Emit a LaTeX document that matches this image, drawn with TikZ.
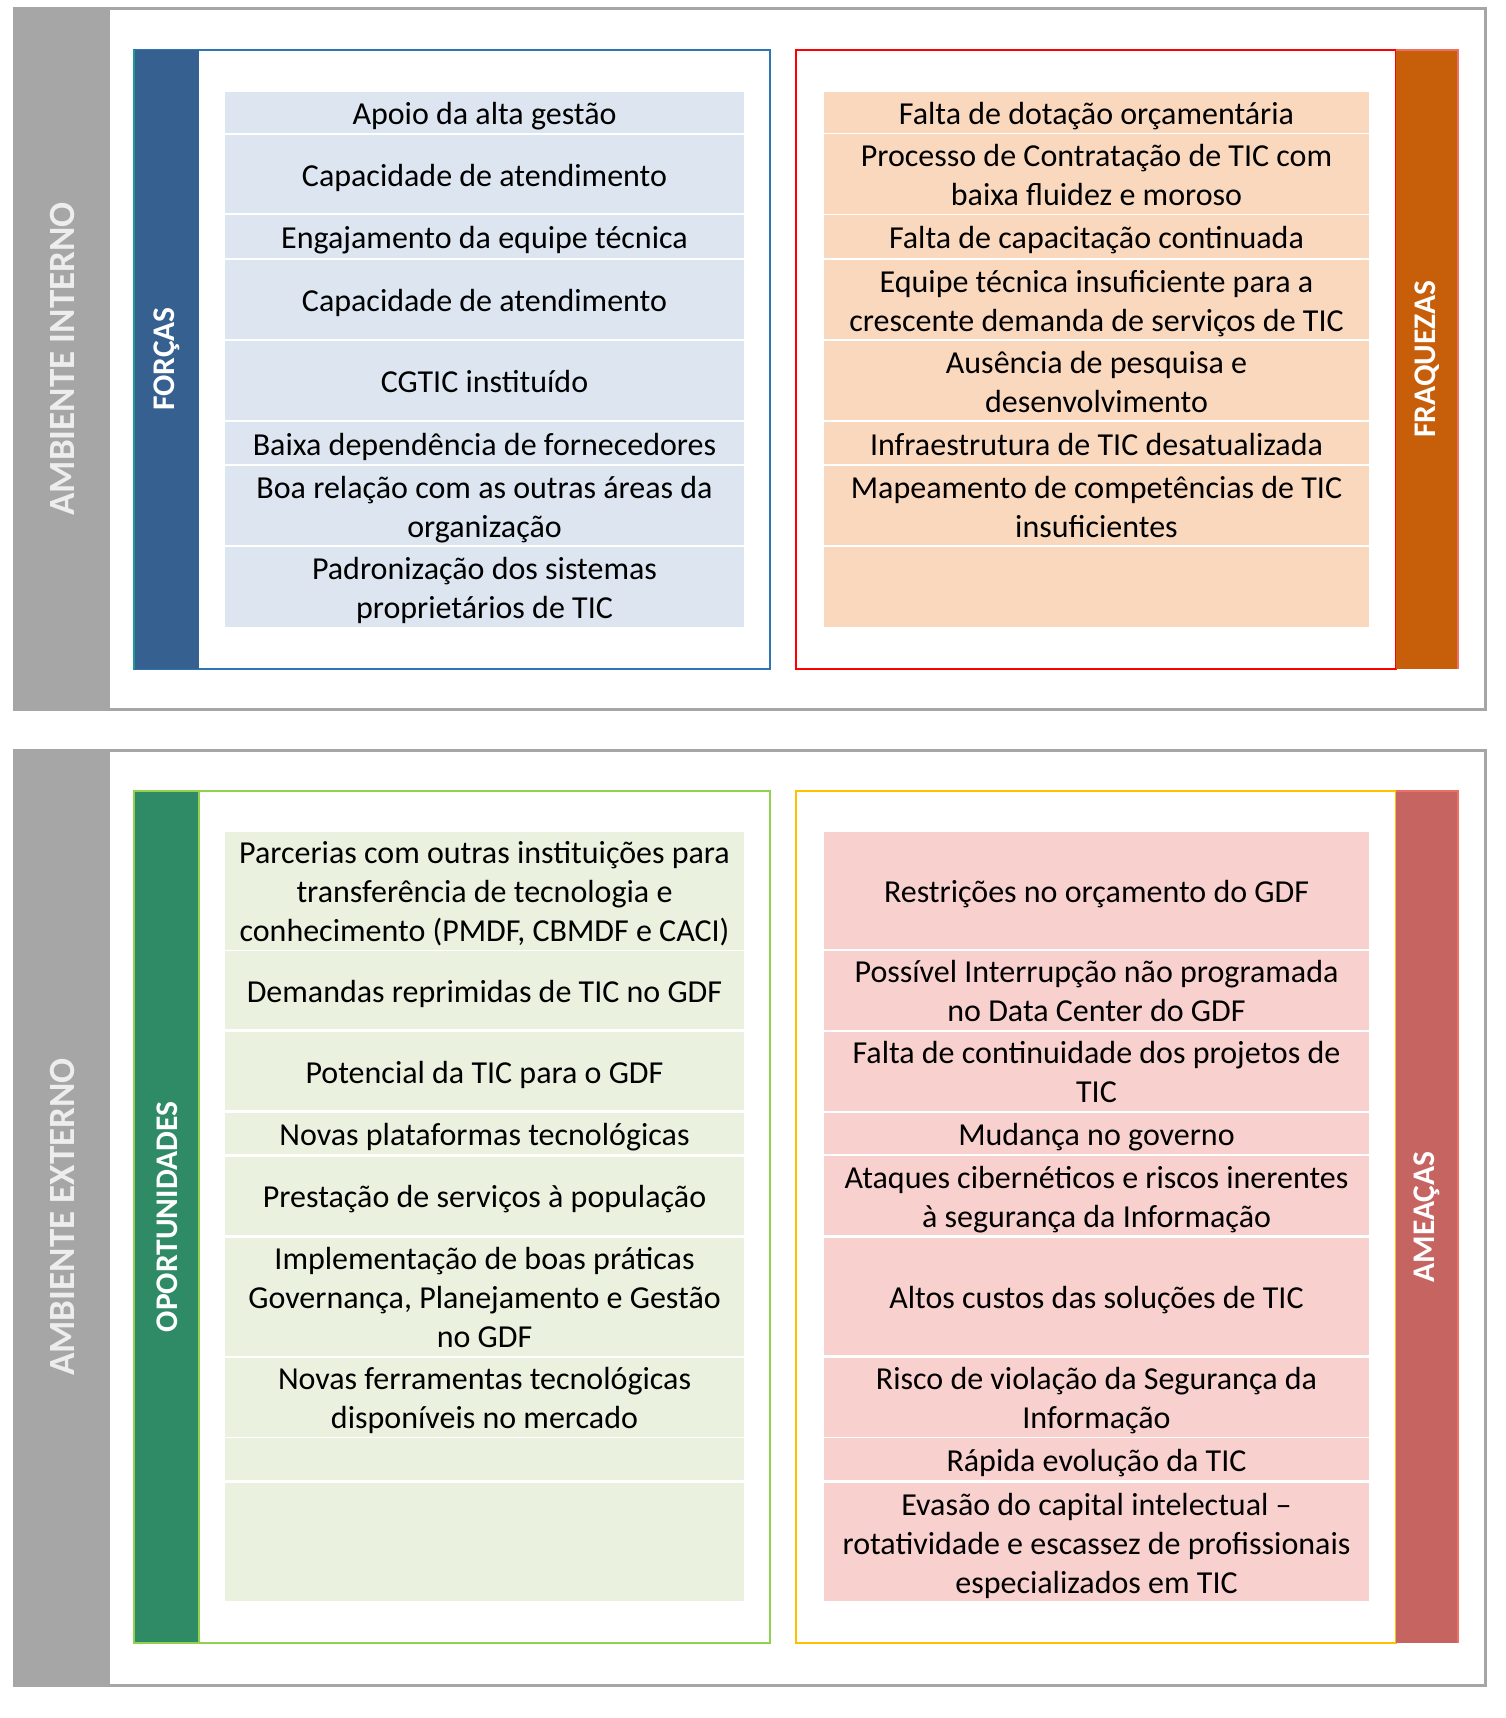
\documentclass[tikz,border=0pt]{standalone}
\usepackage{fontspec}
\setmainfont{Carlito}

\definecolor{moldura}{HTML}{A6A6A6}
\definecolor{azulfaixa}{HTML}{35608F}
\definecolor{azulborda}{HTML}{2E75B6}
\definecolor{azulcel}{HTML}{DCE5F0}
\definecolor{tealline}{HTML}{1B9B98}
\definecolor{laranjafaixa}{HTML}{C65E0A}
\definecolor{laranjacel}{HTML}{FAD8BE}
\definecolor{vermelhoborda}{HTML}{FF0000}
\definecolor{salmao}{HTML}{EC7063}
\definecolor{verdefaixa}{HTML}{2E8B66}
\definecolor{verdeborda}{HTML}{92D050}
\definecolor{verdecel}{HTML}{EAF1DE}
\definecolor{amareloborda}{HTML}{FFC000}
\definecolor{rosafaixa}{HTML}{C66462}
\definecolor{rosacel}{HTML}{F8D0CD}

% altura fixa da primeira linha de cada celula
\newcommand\topo{\rule{0pt}{32pt}}

\tikzset{
  ambiente/.style={rotate=90,text=white!93!black,font=\fontsize{37}{43}\selectfont\bfseries},
  quadrante/.style={rotate=90,text=white,font=\fontsize{31.5}{36}\selectfont\bfseries},
  celula/.style={inner sep=0pt,align=center,font=\fontsize{32}{39}\selectfont,
    execute at end node={\rule[-8pt]{0pt}{8pt}}}
}

\begin{document}
\begin{tikzpicture}[x=1pt,y=-1pt]
\useasboundingbox (0,0) rectangle (1505,1718);

% ambiente interno
\draw[moldura,line width=3] (14,9) rectangle (1485,709);
\fill[moldura] (14,9) rectangle (110,709);
\node (interno) at (62,359) [ambiente] {AMBIENTE INTERNO};

% forcas
\draw[azulborda,line width=2] (134,50) rectangle (770,669);
\fill[azulfaixa] (134,50) rectangle (199,669);
\draw[tealline,line width=2] (134,50) -- (134,669);
\node (forcas) at (167,359) [quadrante] {FORÇAS};
\begin{scope}[every node/.style={celula,fill=azulcel,minimum width=519pt}]
  \node (f1) at (484.5,112.5) [minimum height=41pt] {\topo Apoio da alta gestão};
  \node (f2) at (484.5,174) [minimum height=78pt] {\topo Capacidade de atendimento};
  \node (f3) at (484.5,236.5) [minimum height=43pt] {\topo Engajamento da equipe técnica};
  \node (f4) at (484.5,299.5) [minimum height=79pt] {\topo Capacidade de atendimento};
  \node (f5) at (484.5,380.5) [minimum height=79pt] {\topo CGTIC instituído};
  \node (f6) at (484.5,443) [minimum height=42pt] {\topo Baixa dependência de fornecedores};
  \node (f7) at (484.5,505.5) [minimum height=79pt] {\topo Boa relação com as outras áreas da\\organização};
  \node (f8) at (484.5,587) [minimum height=80pt] {\topo Padronização dos sistemas\\proprietários de TIC};
\end{scope}

% fraquezas
\draw[vermelhoborda,line width=2] (796,50) rectangle (1396,669);
\fill[laranjafaixa] (1396,50) rectangle (1458,669);
\draw[salmao,line width=1.5] (1396,50) -- (1458,50) -- (1458,669);
\node (fraquezas) at (1427,359) [quadrante] {FRAQUEZAS};
\begin{scope}[every node/.style={celula,fill=laranjacel,minimum width=545pt}]
  \node (w1) at (1096.5,112.5) [minimum height=41pt] {\topo Falta de dotação orçamentária};
  \node (w2) at (1096.5,174) [minimum height=78pt] {\topo Processo de Contratação de TIC com\\baixa fluidez e moroso};
  \node (w3) at (1096.5,236.5) [minimum height=43pt] {\topo Falta de capacitação continuada};
  \node (w4) at (1096.5,299.5) [minimum height=79pt] {\topo Equipe técnica insuficiente para a\\crescente demanda de serviços de TIC};
  \node (w5) at (1096.5,380.5) [minimum height=79pt] {\topo Ausência de pesquisa e\\desenvolvimento};
  \node (w6) at (1096.5,443) [minimum height=42pt] {\topo Infraestrutura de TIC desatualizada};
  \node (w7) at (1096.5,505.5) [minimum height=79pt] {\topo Mapeamento de competências de TIC\\insuficientes};
  \node (w8) at (1096.5,587) [minimum height=80pt] {};
\end{scope}

% ambiente externo
\draw[moldura,line width=3] (14,750) rectangle (1485,1685);
\fill[moldura] (14,750) rectangle (110,1685);
\node (externo) at (62,1217) [ambiente] {AMBIENTE EXTERNO};

% oportunidades
\draw[verdeborda,line width=2] (134,791) rectangle (770,1643);
\filldraw[fill=verdefaixa,draw=verdeborda,line width=2] (134,791) rectangle (199,1643);
\node (oportunidades) at (167,1217) [quadrante] {OPORTUNIDADES};
\begin{scope}[every node/.style={celula,fill=verdecel,minimum width=519pt}]
  \node (o1) at (484.5,890.5) [minimum height=117pt] {\topo Parcerias com outras instituições para\\transferência de tecnologia e\\conhecimento (PMDF, CBMDF e CACI)};
  \node (o2) at (484.5,990) [minimum height=78pt] {\topo Demandas reprimidas de TIC no GDF};
  \node (o3) at (484.5,1071) [minimum height=78pt] {\topo Potencial da TIC para o GDF};
  \node (o4) at (484.5,1133) [minimum height=41pt] {\topo Novas plataformas tecnológicas};
  \node (o5) at (484.5,1195.5) [minimum height=78pt] {\topo Prestação de serviços à população};
  \node (o6) at (484.5,1296.5) [minimum height=117pt] {\topo Implementação de boas práticas\\Governança, Planejamento e Gestão\\no GDF};
  \node (o7) at (484.5,1397) [minimum height=78pt] {\topo Novas ferramentas tecnológicas\\disponíveis no mercado};
  \node (o8) at (484.5,1459) [minimum height=42pt] {};
  \node (o9) at (484.5,1542) [minimum height=118pt] {};
\end{scope}

% ameacas
\draw[amareloborda,line width=2] (796,791) rectangle (1396,1643);
\fill[rosafaixa] (1396,791) rectangle (1458,1643);
\draw[salmao,line width=1.5] (1396,791) -- (1458,791) -- (1458,1643);
\node (ameacas) at (1427,1217) [quadrante] {AMEAÇAS};
\begin{scope}[every node/.style={celula,fill=rosacel,minimum width=545pt}]
  \node (a1) at (1096.5,890.5) [minimum height=117pt] {\topo Restrições no orçamento do GDF};
  \node (a2) at (1096.5,990) [minimum height=78pt] {\topo Possível Interrupção não programada\\no Data Center do GDF};
  \node (a3) at (1096.5,1071) [minimum height=78pt] {\topo Falta de continuidade dos projetos de\\TIC};
  \node (a4) at (1096.5,1133) [minimum height=41pt] {\topo Mudança no governo};
  \node (a5) at (1096.5,1195.5) [minimum height=78pt] {\topo Ataques cibernéticos e riscos inerentes\\à segurança da Informação};
  \node (a6) at (1096.5,1296.5) [minimum height=117pt] {\topo Altos custos das soluções de TIC};
  \node (a7) at (1096.5,1397) [minimum height=78pt] {\topo Risco de violação da Segurança da\\Informação};
  \node (a8) at (1096.5,1459) [minimum height=42pt] {\topo Rápida evolução da TIC};
  \node (a9) at (1096.5,1542) [minimum height=118pt] {\topo Evasão do capital intelectual --\\rotatividade e escassez de profissionais\\especializados em TIC};
\end{scope}
\end{tikzpicture}
\end{document}
